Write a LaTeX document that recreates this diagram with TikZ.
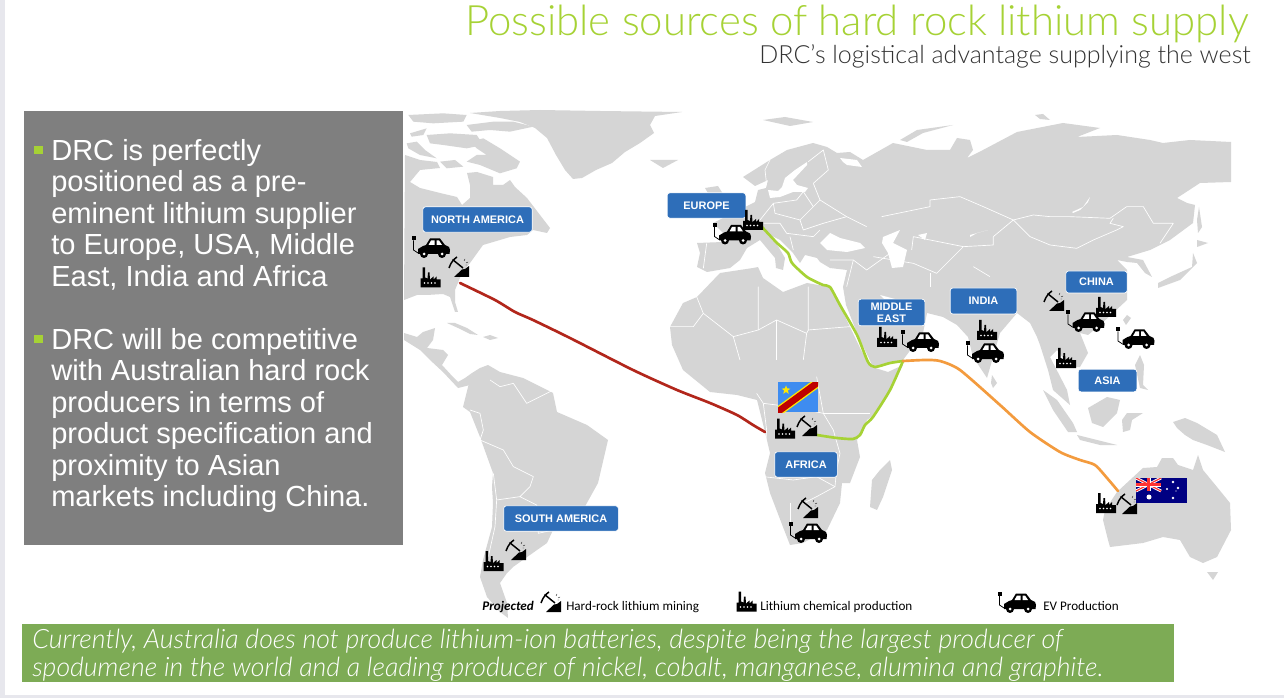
\documentclass[tikz,border=0pt]{standalone}
\usepackage{fontspec}
\setmainfont{Liberation Sans}
\newfontfamily\headfont{Lato Light}
\newfontfamily\legendfont{Carlito}
\usetikzlibrary{positioning,shapes.geometric}
\definecolor{landgray}{HTML}{D5D5D5}
\definecolor{framegray}{HTML}{E7E7ED}
\definecolor{panelgray}{HTML}{7F7F7F}
\definecolor{limegreen}{HTML}{A6D235}
\definecolor{notegreen}{HTML}{7DAB55}
\definecolor{lblblue}{HTML}{2E6EB9}
\definecolor{routered}{HTML}{B2261B}
\definecolor{routeorange}{HTML}{F39B3E}
\tikzset{land/.style={fill=landgray, draw=none}}
\tikzset{sea/.style={fill=white, draw=none}}
\tikzset{mapline/.style={draw=white, line width=0.5pt, line join=round}}
\tikzset{regionlbl/.style={fill=lblblue, draw=white, line width=0.5pt, rounded corners=2, text=white, inner sep=0, align=center, font=\bfseries\fontsize{8.2}{10}\selectfont}}
\tikzset{route/.style={draw, line width=2pt, line cap=round, line join=round}}
\tikzset{legendtxt/.style={anchor=base west, inner sep=0, font=\legendfont\fontsize{9.85}{11}\selectfont}}
\tikzset{bodytxt/.style={anchor=north west, inner sep=0, text=white, align=left, font=\fontsize{21.8}{23.65}\selectfont}}
\tikzset{bullet/.style={fill=limegreen, draw=none}}
\tikzset{factoryicon/.pic={
	\fill[black] (-10,10) -- (-10,1) -- (-8,1) -- (-8,-10) -- (-5.5,-10) -- (-5.5,0) -- (-3,1) -- (-2.5,-5) -- (-1,-5) -- (-0.5,2)
		-- (3,-1) -- (3,2) -- (6,-1) -- (6,2) -- (10,2) -- (10,10) -- cycle;
	\foreach \wx in {-6,-2.5,1,4.5} \fill[white] (\wx,5.5) circle (0.9);
}}
\tikzset{mineicon/.pic={
	\fill[black] (-5,10) -- (3,2.5) -- (6,2) -- (10,-1) -- (10,10) -- cycle;
	\draw[black, line width=1.1pt] (-10,1) .. controls (-8,-5) and (-5,-8) .. (-2,-10);
	\draw[black, line width=1.1pt] (-6.5,-7.5) -- (4,1);
	\draw[black, line width=0.3pt] (5,-6) -- (6,-8) (7,-4) -- (9,-5) (6.5,-2) -- (8,-2);
}}
\tikzset{evicon/.pic={
	\fill[black] (-13,7) -- (-13,2) -- (-8,-1) -- (-5,-2) -- (-1,-8.5) -- (9,-8.5) -- (14,-2) -- (18,0) -- (19,3) -- (18.5,7) -- cycle;
	\fill[white] (-2.5,-2) -- (0,-6.5) -- (3.5,-6.5) -- (3.5,-2) -- cycle;
	\fill[white] (5.5,-2) -- (5.5,-6.5) -- (8,-6.5) -- (11,-2) -- cycle;
	\foreach \wx in {-7,11} {\fill[black] (\wx,7) circle (4); \fill[white] (\wx,7) circle (1.5);}
	\fill[black] (-19.5,-10.5) rectangle (-15.5,-6.5);
	\draw[black, line width=0.6pt] (-17.5,-6.5) -- (-17.5,3) -- (-13,6);
}}
\begin{document}
\begin{tikzpicture}[x=0.75pt, y=-0.75pt]
	\useasboundingbox (0,0) rectangle (1284,698);
	\fill[white] (0,0) rectangle (1284,698);
	\fill[framegray] (0,0) rectangle (5,698);
	\fill[framegray] (0,695) rectangle (1284,698);
	%
	% greenland, arctic
	\fill[land] plot coordinates {(500,111) (540,110) (600,111) (682,112) (655,116) (650,125) (654,133) (640,143) (625,152) (612,163) (596,170) (582,178) (573,179) (565,170) (556,155) (547,138) (535,128) (520,122) (500,118) (470,113)} -- cycle;
	\begin{scope}[shift={(400,105)}, scale=0.3333]
		\fill[land] plot coordinates {(25,30) (130,25) (200,30) (190,50) (100,55) (40,50)} -- cycle;
		\fill[land] plot coordinates {(30,85) (80,70) (70,90) (35,95)} -- cycle;
		\fill[land] plot coordinates {(80,90) (150,85) (230,90) (250,120) (200,130) (130,120) (90,115)} -- cycle;
		\fill[land] plot coordinates {(20,115) (50,110) (75,135) (110,160) (60,150) (25,130)} -- cycle;
		\fill[land] plot coordinates {(120,170) (165,165) (190,185) (140,190)} -- cycle;
		\fill[land] plot coordinates {(210,110) (250,100) (300,130) (360,170) (350,190) (300,205) (240,180) (200,170) (230,150) (260,150) (230,130)} -- cycle;
		\fill[land] plot coordinates {(200,60) (280,50) (340,50) (400,65) (330,80) (270,75) (215,80)} -- cycle;
	\end{scope}
	% americas
	\fill[land] plot coordinates {(405,155) (420,160) (437,162) (440,168) (420,170) (410,182) (420,188) (440,193) (457,197) (462,205) (470,198) (470,185) (467,173) (477,172) (493,177) (493,185) (503,185) (510,180) (515,187) (527,198) (540,215) (550,228) (547,233) (533,230) (527,235) (510,237) (483,245) (470,263) (462,273) (455,290) (455,302) (458,312) (455,312) (450,297) (443,294) (427,295) (417,295) (404,300)} -- cycle;
	\fill[land] plot coordinates {(404,333) (417,337) (423,332) (435,328) (433,340) (427,348) (443,350) (448,355) (442,365) (453,377) (458,382) (465,378) (472,373) (470,385) (458,388) (443,372) (430,360) (420,350) (404,340)} -- cycle;
	\fill[land] plot coordinates {(447,323) (455,323) (467,328) (478,335) (470,334) (458,328)} -- cycle;
	\fill[land] plot coordinates {(483,337) (490,335) (498,338) (490,340)} -- cycle;
	\fill[land] plot coordinates {(488,365) (480,368) (472,373) (468,387) (463,407) (470,412) (480,437) (493,473) (492,487) (493,503) (492,527) (483,560) (480,577) (487,597) (500,612) (508,618) (507,603) (500,583) (507,573) (513,567) (537,550) (547,543) (553,530) (583,510) (598,483) (608,440) (587,425) (557,412) (553,393) (533,383) (523,378) (500,372)} -- cycle;
	% africa, madagascar
	\fill[land] plot coordinates {(670,327) (683,303) (697,297) (720,273) (753,268) (758,267) (763,278) (783,292) (807,283) (830,287) (842,310) (850,327) (862,352) (872,367) (888,372) (903,365) (890,390) (877,413) (867,420) (857,440) (860,457) (850,483) (842,483) (840,503) (827,530) (803,543) (790,545) (783,527) (770,493) (765,473) (770,453) (765,432) (757,400) (737,395) (710,392) (683,370) (672,345)} -- cycle;
	\fill[land] plot coordinates {(890,460) (892,470) (883,497) (877,510) (870,507) (872,480) (880,470)} -- cycle;
	% eurasia
	\fill[land] plot coordinates {(697,243) (723,242) (730,240) (713,223) (735,212) (755,202) (758,190) (766,188) (768,180) (755,186) (743,177) (770,160) (787,150) (813,143) (827,147) (837,153) (850,152) (863,160) (893,143) (927,150) (950,150) (957,138) (970,140) (973,150) (967,158) (983,150) (1017,132) (1063,123) (1100,128) (1077,137) (1117,135) (1150,140) (1163,143) (1190,140) (1231,142) (1231,182) (1200,183) (1177,198) (1187,203) (1195,205) (1193,223) (1170,240) (1150,250) (1127,257) (1143,260) (1152,277) (1145,273) (1137,263) (1127,262) (1117,260) (1127,270) (1127,300) (1113,313) (1100,325) (1088,335) (1080,333) (1088,353) (1080,367) (1070,367) (1057,350) (1050,357) (1067,390) (1070,405) (1053,390) (1048,370) (1040,345) (1037,337) (1030,323) (1017,313) (1000,333) (987,378) (973,357) (968,337) (957,325) (943,317) (927,313) (923,333) (903,360) (883,365) (873,367) (857,333) (846,305) (843,287) (847,270) (830,268) (820,262) (817,258) (805,255) (800,263) (793,253) (780,240) (772,236) (785,258) (783,270) (776,268) (775,258) (760,240) (747,248) (740,260) (730,268) (707,272) (697,267) (700,253)} -- cycle;
	% seas and lakes
	\fill[sea] plot coordinates {(807,162) (795,170) (785,178) (782,187) (778,191) (768,190) (770,198) (780,197) (793,192) (805,192) (808,188) (797,185) (793,180) (807,165)} -- cycle;
	\fill[sea] plot coordinates {(840,158) (857,160) (862,167) (847,165) (843,162)} -- cycle;
	\fill[sea] plot coordinates {(820,243) (830,233) (840,238) (860,243) (865,248) (847,252) (827,250)} -- cycle;
	\fill[sea] plot coordinates {(883,237) (900,230) (893,243) (907,250) (903,267) (892,268) (888,253) (882,243)} -- cycle;
	\fill[sea] plot coordinates {(918,235) (927,233) (925,240)} -- cycle;
	\fill[sea] plot coordinates {(970,235) (988,230) (977,233) (970,237)} -- cycle;
	\fill[sea] plot coordinates {(1072,212) (1083,207) (1090,197) (1088,202) (1080,210) (1073,213)} -- cycle;
	\fill[sea] plot coordinates {(880,295) (895,299) (897,305) (885,300)} -- cycle;
	% islands
	\fill[land] plot coordinates {(650,160) (678,160) (663,168)} -- cycle;
	\fill[land] plot coordinates {(705,188) (718,186) (730,205) (720,215) (710,212) (712,200)} -- cycle;
	\fill[land] plot coordinates {(763,120) (785,117) (813,122) (790,126)} -- cycle;
	\fill[land] plot coordinates {(900,140) (917,130) (953,125) (923,133) (907,142)} -- cycle;
	\fill[land] plot coordinates {(1035,115) (1043,114) (1050,120) (1040,119)} -- cycle;
	\fill[land] plot coordinates {(992,375) (997,383) (993,388) (991,383)} -- cycle;
	\fill[land] plot coordinates {(1043,390) (1057,400) (1073,423) (1077,432) (1068,432) (1053,410)} -- cycle;
	\fill[land] plot coordinates {(1077,435) (1097,440) (1117,445) (1100,445) (1080,440)} -- cycle;
	\fill[land] plot coordinates {(1088,408) (1107,397) (1120,400) (1117,413) (1103,427) (1092,423)} -- cycle;
	\fill[land] plot coordinates {(1127,413) (1143,413) (1132,420) (1130,430) (1123,432) (1122,420)} -- cycle;
	\fill[land] plot coordinates {(1173,422) (1185,418) (1197,423) (1217,435) (1225,452) (1207,445) (1193,440) (1185,435) (1177,428)} -- cycle;
	\fill[land] plot coordinates {(1198,455) (1203,470) (1217,487) (1230,503) (1231,530) (1217,557) (1203,563) (1190,557) (1180,540) (1163,537) (1143,543) (1110,547) (1108,540) (1103,520) (1105,510) (1117,492) (1130,480) (1143,468) (1157,467) (1162,458) (1173,458) (1178,465) (1193,470)} -- cycle;
	\fill[land] plot coordinates {(1207,572) (1218,572) (1213,580)} -- cycle;
	\fill[land] plot coordinates {(1127,315) (1131,318) (1126,325) (1123,320)} -- cycle;
	\fill[land] plot coordinates {(1140,355) (1144,365) (1143,385) (1148,390) (1140,388) (1135,365)} -- cycle;
	\fill[land] plot coordinates {(1199,207) (1202,227) (1198,233) (1197,220)} -- cycle;
	\fill[land] plot coordinates {(1197,240) (1208,243) (1197,247)} -- cycle;
	\fill[land] plot coordinates {(1193,253) (1192,267) (1170,277) (1158,283) (1158,288) (1180,280) (1197,263)} -- cycle;
	% borders
	\begin{scope}[shift={(850,100)}, scale=0.3333]
		\draw[mapline] (95,350) -- (240,320) -- (240,300) -- (330,290) -- (400,320) -- (490,360) -- (550,345) -- (600,350) -- (660,350) -- (780,355) -- (830,320) -- (880,320) -- (910,370) -- (970,370) -- (930,430);
		\draw[mapline] (490,360) -- (540,410) -- (600,435) -- (680,445) -- (730,420) -- (800,390) -- (820,380) -- (780,370) -- (790,355);
		\draw[mapline] (185,450) -- (190,410) -- (240,420) -- (290,430) -- (340,440) -- (430,435) -- (430,410) -- (490,360);
		\draw[mapline] (70,470) -- (190,490) -- (260,520) -- (300,480) -- (340,440);
		\draw[mapline] (240,520) -- (240,560);
		\draw[mapline] (370,500) -- (420,530);
	\end{scope}
	\begin{scope}[shift={(680,120)}, scale=0.3333]
		\draw[mapline] (240,300) -- (280,250) -- (350,240) -- (370,215);
		\draw[mapline] (280,250) -- (285,280) -- (360,300) -- (400,260) -- (370,215);
		\draw[mapline] (360,300) -- (370,330) -- (430,310) -- (500,290);
		\draw[mapline] (420,240) -- (500,290) -- (560,320);
		\draw[mapline] (400,190) -- (420,240) -- (400,260);
		\draw[mapline] (250,310) -- (300,310) -- (320,340) -- (400,350) -- (420,330);
		\draw[mapline] (330,350) -- (340,390);
		\draw[mapline] (270,120) -- (255,150) -- (260,195);
		\draw[mapline] (385,125) -- (430,90) -- (445,150) -- (400,190);
		\draw[mapline] (150,360) -- (240,300);
		\draw[mapline] (80,370) -- (70,445);
		\draw[mapline] (450,420) -- (520,420) -- (560,450) -- (630,400);
		\draw[mapline] (520,420) -- (500,500);
	\end{scope}
	\begin{scope}[shift={(400,100)}, scale=0.3333]
		\draw[mapline] (890,590) -- (910,640) -- (1000,710) -- (1075,690) -- (1075,560);
		\draw[mapline] (810,680) -- (880,680) -- (910,640);
		\draw[mapline] (1225,560) -- (1225,690) -- (1350,680);
		\draw[mapline] (1075,690) -- (1130,660) -- (1220,700) -- (1225,690);
		\draw[mapline] (1000,710) -- (1020,780);
		\draw[mapline] (1220,700) -- (1210,780);
		\draw[mapline] (1130,660) -- (1130,780);
	\end{scope}
	\begin{scope}[shift={(470,370)}, scale=0.3333]
		\draw[mapline] (880,100) -- (960,110) -- (1060,130) -- (1090,180) -- (1110,250) -- (1100,300) -- (1095,350) -- (1040,380) -- (1000,400);
		\draw[mapline] (880,320) -- (970,330) -- (1040,320) -- (1095,350);
		\draw[mapline] (960,400) -- (960,470);
		\draw[mapline] (1040,20) -- (1060,130);
		\draw[mapline] (860,70) -- (880,100) -- (890,180) -- (880,320);
		\draw[mapline] (1060,130) -- (1200,130);
		% south america
		\draw[mapline] (40,180) -- (30,210) -- (100,240) -- (130,290) -- (190,320) -- (180,350) -- (150,380) -- (200,405) -- (205,490) -- (250,480);
		\draw[mapline] (70,310) -- (80,390) -- (75,470) -- (55,560);
		\draw[mapline] (80,390) -- (150,380);
		\draw[mapline] (130,40) -- (170,100) -- (250,60) -- (260,100);
		\draw[mapline] (40,180) -- (30,130) -- (0,120);
		\draw[mapline] (60,30) -- (90,50) -- (130,40);
	\end{scope}
	%
	% routes
	\coordinate (naport) at (460,283);
	\coordinate (drcwest) at (765,432);
	\coordinate (drceast) at (817,435);
	\coordinate (euport) at (762,227);
	\coordinate (horn) at (903,361);
	\coordinate (wa) at (1118,491);
	\draw[route, routered] plot[smooth, tension=0.4] coordinates {(naport) (495,300) (515,312) (533,320) (570,338) (633,370) (677,390) (710,403) (737,415) (753,425) (drcwest)};
	\draw[route, limegreen] plot[smooth, tension=0.4] coordinates {(euport) (777,243) (788,253) (792,263) (807,277) (823,285) (830,287) (840,305) (857,335) (868,362) (875,367) (890,363) (horn)};
	\draw[route, limegreen] plot[smooth, tension=0.4] coordinates {(horn) (890,390) (873,417) (865,425) (860,435) (853,439) (837,438) (drceast)};
	\draw[route, routeorange] plot[smooth, tension=0.4] coordinates {(horn) (925,360) (940,361) (960,370) (1000,405) (1030,432) (1060,452) (1080,460) (1095,465) (1107,478) (wa)};
	%
	% region labels
	\node[regionlbl, minimum width=82pt, minimum height=19pt] (northamerica) at (477.5,219.5) {NORTH AMERICA};
	\node[regionlbl, minimum width=59pt, minimum height=19pt] (europe) at (706.5,205.5) {EUROPE};
	\node[regionlbl, minimum width=50pt, minimum height=20pt, font=\bfseries\fontsize{8.2}{9.2}\selectfont] (middleeast) at (891.5,312.5) {MIDDLE\\EAST};
	\node[regionlbl, minimum width=50pt, minimum height=19.5pt] (india) at (983.5,301) {INDIA};
	\node[regionlbl, minimum width=46pt, minimum height=16.5pt] (china) at (1096.5,282) {CHINA};
	\node[regionlbl, minimum width=44pt, minimum height=17pt] (asia) at (1107.5,380.5) {ASIA};
	\node[regionlbl, minimum width=47pt, minimum height=19pt] (africa) at (806,464.5) {AFRICA};
	\node[regionlbl, minimum width=86pt, minimum height=19pt] (southamerica) at (561,518.5) {SOUTH AMERICA};
	%
	% flags
	\begin{scope}
		\clip (778,382) rectangle (818,412);
		\fill[fill={rgb,255:red,62;green,140;blue,240}] (778,382) rectangle (818,412);
		\draw[line width=7pt, yellow!90!orange] (772,416) -- (824,378);
		\draw[line width=5pt, red!75!black] (772,416) -- (824,378);
	\end{scope}
	\node[star, star points=5, star point ratio=2.4, fill=yellow!90!orange, inner sep=0, minimum size=7pt] (drcstar) at (786,390) {};
	\begin{scope}
		\clip (1136,478) rectangle (1187,503);
		\fill[fill={rgb,255:red,0;green,0;blue,130}] (1136,478) rectangle (1187,503);
		\draw[line width=2.2pt, white] (1136,478) -- (1161,491) (1161,478) -- (1136,491);
		\draw[line width=0.9pt, red!80!white] (1136,478) -- (1161,491) (1161,478) -- (1136,491);
		\draw[line width=3pt, white] (1148.5,478) -- (1148.5,491) (1136,484.5) -- (1161,484.5);
		\draw[line width=1.6pt, red!80!white] (1148.5,478) -- (1148.5,491) (1136,484.5) -- (1161,484.5);
		\foreach \sx/\sy/\sr in {1149/497/2.5, 1173/482/1.4, 1167/489/1.2, 1178/488/1.3, 1173/498/1.4, 1176/491/0.7} \fill[white] (\sx,\sy) circle (\sr);
	\end{scope}
	%
	% icons
	\pic (naev) at (431,247) {evicon};
	\pic (namine) at (459,267) {mineicon};
	\pic (nafactory) at (430.5,277.5) {factoryicon};
	\pic (eufactory) at (753,220) {factoryicon};
	\pic (euev) at (732,233.5) {evicon};
	\pic (mefactory) at (887,337) {factoryicon};
	\pic (meev) at (920,341) {evicon};
	\pic (infactory) at (987,330) {factoryicon};
	\pic (inev) at (985,352) {evicon};
	\pic (chmine) at (1054,301) {mineicon};
	\pic (chfactory) at (1106,307) {factoryicon};
	\pic (chev) at (1085.5,321) {evicon};
	\pic (asev) at (1135.5,338) {evicon};
	\pic (asfactory) at (1066,358) {factoryicon};
	\pic (aufactory) at (1106,503) {factoryicon};
	\pic (aumine) at (1127,504) {mineicon};
	\pic (drcfactory) at (785,428.5) {factoryicon};
	\pic (drcmine) at (807,426) {mineicon};
	\pic (zamine) at (808,508) {mineicon};
	\pic (zaev) at (808,532) {evicon};
	\pic (samine) at (516,550) {mineicon};
	\pic (safactory) at (493.5,561) {factoryicon};
	%
	% legend
	\node[legendtxt, font=\legendfont\bfseries\itshape\fontsize{9.85}{11}\selectfont] (projected) at (482,610) {Projected};
	\pic (legmine) at (551,602) {mineicon};
	\node[legendtxt] (legminetxt) at (566,610) {Hard-rock lithium mining};
	\pic (legfactory) at (746.5,601.5) {factoryicon};
	\node[legendtxt] (legfactorytxt) at (760,610) {Lithium chemical production};
	\pic (legev) at (1017,602) {evicon};
	\node[legendtxt] (legevtxt) at (1043,610) {EV Production};
	%
	% left panel
	\fill[panelgray] (24,111) rectangle (403,545);
	\fill[bullet] (34,146) rectangle (43,154);
	\fill[bullet] (34,335) rectangle (43,343);
	\node[bodytxt] (bodya) at (51,139) {DRC is perfectly\\positioned as a pre-\\eminent lithium supplier\\to Europe, USA, Middle\\East, India and Africa};
	\node[bodytxt] (bodyb) at (51,328) {DRC will be competitive\\with Australian hard rock\\producers in terms of\\product specification and\\proximity to Asian\\markets including China.};
	%
	% title
	\node[anchor=base east, inner sep=0, text=limegreen, font=\headfont\fontsize{31.4}{33}\selectfont] (title) at (1249,36) {Possible sources of hard rock lithium supply};
	\node[anchor=base east, inner sep=0, text=black!80, font=\headfont\fontsize{18.75}{20}\selectfont] (subtitle) at (1251,64) {DRC’s logistical advantage supplying the west};
	%
	% note
	\fill[notegreen] (22,624) rectangle (1174,682);
	\node[anchor=base west, inner sep=0, text=white, font=\headfont\itshape\fontsize{20}{22}\selectfont] (notea) at (32,648) {Currently, Australia does not produce lithium-ion batteries, despite being the largest producer of};
	\node[anchor=base west, inner sep=0, text=white, font=\headfont\itshape\fontsize{20}{22}\selectfont] (noteb) at (32,676) {spodumene in the world and a leading producer of nickel, cobalt, manganese, alumina and graphite.};
\end{tikzpicture}
\end{document}
